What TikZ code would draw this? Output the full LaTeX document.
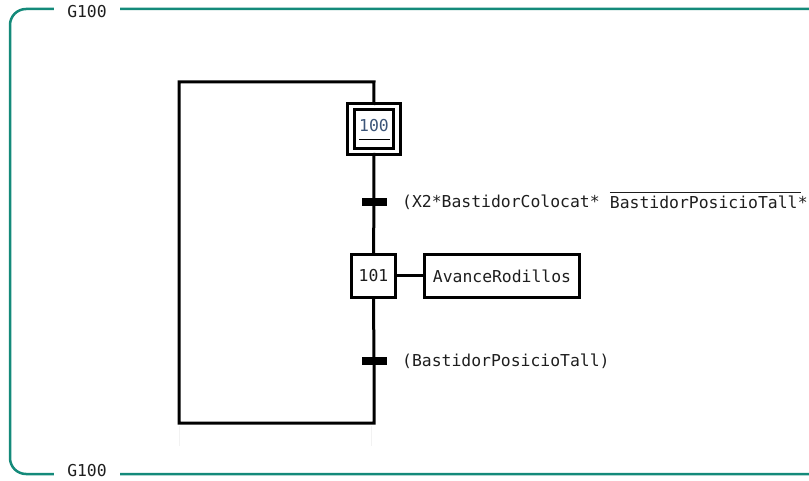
\documentclass[tikz,border=0pt]{standalone}
\usepackage{fontspec}
\setmonofont{DejaVu Sans Mono}
\definecolor{teal1}{RGB}{20,138,122}
\definecolor{txt}{RGB}{30,30,30}
\definecolor{steptxt}{RGB}{60,85,120}
\begin{document}
\begin{tikzpicture}[x=1pt,y=-1pt,
  every node/.style={font=\ttfamily\fontsize{16.4}{20}\selectfont, text=txt},
  wire/.style={line width=3pt, line join=miter, black},
  stepbox/.style={draw=black, line width=3pt, inner sep=0pt},
  trbar/.style={fill=black, inner sep=0pt, minimum width=25pt, minimum height=8pt},
  cond/.style={anchor=west, inner sep=0pt},
  frame/.style={draw=teal1, line width=2.5pt, rounded corners=16pt},
  glabel/.style={fill=white, inner sep=0pt, minimum width=66pt, minimum height=14pt}
]
\useasboundingbox (0,0) rectangle (809,481);
% frame
\draw[frame] (840,9) -- (10,9) -- (10,474) -- (840,474);
\node[glabel] (gtop) at (87,12) {G100};
\node[glabel] (gbot) at (87,471) {G100};

% steps
\node[stepbox, double, double distance=3.5pt, minimum width=46pt, minimum height=45pt] (s100) at (373.8,129) {};
\node[text=steptxt, inner sep=0pt] (l100) at (374,126) {100};
\coordinate (ul1) at (359,139.5);
\coordinate (ul2) at (389.5,139.5);
\draw[line width=1.3pt] (ul1) -- (ul2);

\node[stepbox, minimum width=44pt, minimum height=43pt] (s101) at (373.5,276) {101};
\node[stepbox, minimum width=155pt, minimum height=43pt] (a101) at (502,276) {AvanceRodillos};
\draw[wire] (s101.east) -- (a101.west);

% transitions
\node[trbar] (t1) at (374,202) {};
\node[trbar] (t2) at (374,361) {};

\node[cond] (c1a) at (402,202) {(X2*BastidorColocat*\hphantom{x}};
\node[cond, anchor=west] (c1b) at (c1a.east) {BastidorPosicioTall};
\node[cond, anchor=west] (c1c) at (c1b.east) {*};
\coordinate (ov1) at ([yshift=3pt]c1b.north west);
\coordinate (ov2) at ([xshift=3pt,yshift=3pt]c1b.north east);
\draw[line width=1.2pt, txt] (ov1) -- (ov2);

\node[cond] (c2) at (402,361) {(BastidorPosicioTall)};

% loop corners
\coordinate (tr) at (374,82);
\coordinate (tl) at (179,82);
\coordinate (bl) at (179,423);
\coordinate (br) at (374,423);

\draw[wire] (s100.north) -- (tr) -- (tl) -- (bl) -- (br) -- (t2.center) -- (s101.south);
\draw[wire] (s100.south) -- (t1.center) -- (s101.north);

% faint traces below the loop
\coordinate (f1a) at (179,426);
\coordinate (f1b) at (179,446);
\coordinate (f2a) at (371,426);
\coordinate (f2b) at (371,446);
\draw[gray!10, line width=1pt] (f1a) -- (f1b) (f2a) -- (f2b);
\end{tikzpicture}
\end{document}
